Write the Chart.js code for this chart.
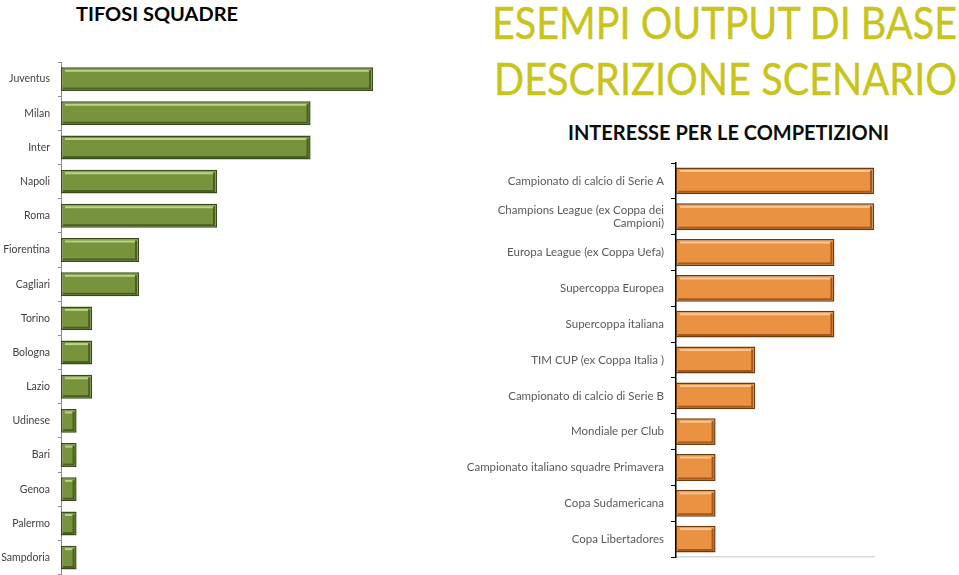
<!DOCTYPE html>
<html>
<head>
<meta charset="utf-8">
<script src="https://cdn.jsdelivr.net/npm/chart.js@4"></script>
<style>
  html, body { margin: 0; padding: 0; background: #fff; }
  body { width: 959px; height: 575px; position: relative; overflow: hidden; font-family: Lato, "Open Sans", sans-serif; }
  .t { position: absolute; white-space: nowrap; transform-origin: left top; line-height: 1; }
  #leftTitle { font-weight: bold; font-size: 19px; color: #000; }
  .big { font-size: 44px; color: #c9c41c; -webkit-text-stroke: 0.35px #c9c41c; }
  #rightTitle { font-weight: bold; font-size: 21px; color: #0d0d0d; }
  #leftBox { position: absolute; left: 0; top: 0; width: 400px; height: 589px; }
  #rightBox { position: absolute; left: 460px; top: 0; width: 499px; height: 575px; }
</style>
</head>
<body>
<div class="t" id="leftTitle">TIFOSI SQUADRE</div>
<div class="t big" id="big1">ESEMPI OUTPUT DI BASE</div>
<div class="t big" id="big2">DESCRIZIONE SCENARIO</div>
<div class="t" id="rightTitle">INTERESSE PER LE COMPETIZIONI</div>
<div id="leftBox"><canvas id="leftChart"></canvas></div>
<div id="rightBox"><canvas id="rightChart"></canvas></div>
<script>
// --- data ---
const teams = ['Juventus', 'Milan', 'Inter', 'Napoli', 'Roma', 'Fiorentina', 'Cagliari', 'Torino',
               'Bologna', 'Lazio', 'Udinese', 'Bari', 'Genoa', 'Palermo', 'Sampdoria'];
const teamFans = [20, 16, 16, 10, 10, 5, 5, 2, 2, 2, 1, 1, 1, 1, 1];

const competitions = [
    'Campionato di calcio di Serie A',
    ['Champions League (ex Coppa dei', 'Campioni)'],
    'Europa League (ex Coppa Uefa)',
    'Supercoppa Europea',
    'Supercoppa italiana',
    'TIM CUP (ex Coppa Italia )',
    'Campionato di calcio di Serie B',
    'Mondiale per Club',
    'Campionato italiano squadre Primavera',
    'Copa Sudamericana',
    'Copa Libertadores'
];
const interest = [5, 5, 4, 4, 4, 2, 2, 1, 1, 1, 1];

// titles: place text and squeeze it to the width seen in the picture
function placeTitle(id, left, top, width) {
    const el = document.getElementById(id);
    el.style.left = left + 'px';
    el.style.top = top + 'px';
    const w = el.getBoundingClientRect().width;
    el.style.transform = 'scaleX(' + (width / w) + ')';
}
placeTitle('leftTitle', 76, 4, 162);
placeTitle('big1', 492, 0, 465);
placeTitle('big2', 494, 56, 463);
placeTitle('rightTitle', 568, 121, 321);

// bevel look on top of the bars
const bevelPlugin = {
    id: 'bevel',
    afterDatasetsDraw(chart, args, opts) {
        const ctx = chart.ctx;
        chart.getDatasetMeta(0).data.forEach(bar => {
            const x0 = Math.min(bar.base, bar.x), x1 = Math.max(bar.base, bar.x);
            const y0 = bar.y - bar.height / 2, y1 = bar.y + bar.height / 2;
            ctx.save();
            // top highlight
            ctx.strokeStyle = opts.light;
            ctx.lineWidth = 2;
            ctx.beginPath();
            ctx.moveTo(x0 + 4, y0 + 3.5);
            ctx.lineTo(x1 - 4, y0 + 3.5);
            ctx.stroke();
            // dark bottom + right bevel
            ctx.strokeStyle = opts.dark;
            ctx.lineWidth = 2;
            ctx.beginPath();
            ctx.moveTo(x0 + 2, y1 - 2.5);
            ctx.lineTo(x1 - 3, y1 - 2.5);
            ctx.lineTo(x1 - 3, y0 + 3);
            ctx.stroke();
            ctx.restore();
        });
    }
};

function barFill(top, mid, bottom) {
    return function (c) {
        const bar = c.element;
        if (!bar || !bar.height) return mid;
        const g = c.chart.ctx.createLinearGradient(0, bar.y - bar.height / 2, 0, bar.y + bar.height / 2);
        g.addColorStop(0, top);
        g.addColorStop(0.35, mid);
        g.addColorStop(1, bottom);
        return g;
    };
}

Chart.defaults.font.family = 'Lato, "Open Sans", sans-serif';
Chart.defaults.animation = false;

new Chart(document.getElementById('leftChart'), {
    type: 'bar',
    data: {
        labels: teams,
        datasets: [{
            data: teamFans,
            backgroundColor: barFill('#93b04f', '#77933c', '#5f7a2c'),
            borderColor: '#3b4a1c',
            borderWidth: 1.5,
            borderSkipped: false,
            categoryPercentage: 1,
            barPercentage: 0.7
        }]
    },
    plugins: [bevelPlugin],
    options: {
        indexAxis: 'y',
        responsive: true,
        maintainAspectRatio: false,
        layout: { padding: { top: 62, right: 27, bottom: 0, left: 0 } },
        plugins: {
            legend: { display: false },
            tooltip: { enabled: false },
            bevel: { light: '#bcd48a', dark: '#4a5f22' }
        },
        scales: {
            x: { display: false, min: 0, max: 20 },
            y: {
                afterFit: function (scale) { scale.width = 61; },
                grid: { drawOnChartArea: false, drawTicks: true, tickLength: 3, color: '#8c8c8c', offset: true },
                border: { color: '#8c8c8c', width: 1 },
                ticks: { color: '#404040', padding: 8, font: { size: 10.5 }, autoSkip: false }
            }
        }
    }
});

new Chart(document.getElementById('rightChart'), {
    type: 'bar',
    data: {
        labels: competitions,
        datasets: [{
            data: interest,
            backgroundColor: barFill('#f7b071', '#ea9142', '#d47a2c'),
            borderColor: '#6e3a0c',
            borderWidth: 1.5,
            borderSkipped: false,
            categoryPercentage: 1,
            barPercentage: 0.75
        }]
    },
    plugins: [bevelPlugin],
    options: {
        indexAxis: 'y',
        responsive: true,
        maintainAspectRatio: false,
        layout: { padding: { top: 163, right: 85, bottom: 18, left: 0 } },
        plugins: {
            legend: { display: false },
            tooltip: { enabled: false },
            bevel: { light: '#fbc89a', dark: '#a5581a' }
        },
        scales: {
            x: {
                min: 0, max: 5,
                afterFit: function (scale) { scale.height = 0; },
                grid: { display: false },
                border: { color: '#d9d9d9', width: 1.5 },
                ticks: { display: false }
            },
            y: {
                afterFit: function (scale) { scale.width = 216; },
                grid: { drawOnChartArea: false, drawTicks: true, tickLength: 5, color: '#000', offset: true },
                border: { color: '#000', width: 1.5 },
                ticks: { color: '#595959', padding: 7, font: { size: 11.5 }, autoSkip: false }
            }
        }
    }
});
</script>
</body>
</html>
